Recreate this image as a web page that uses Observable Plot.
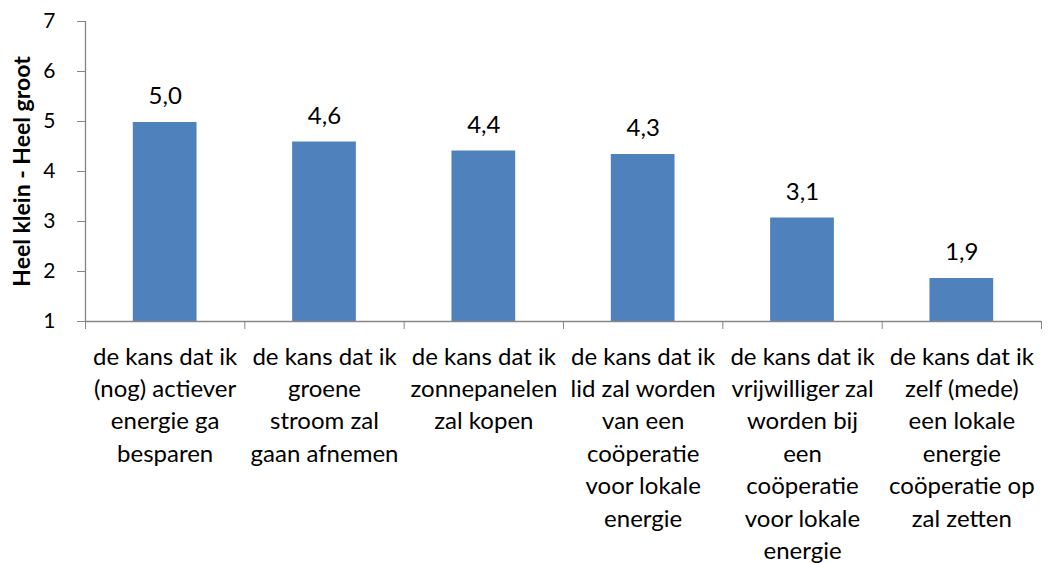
<!DOCTYPE html>
<html>
<head>
<meta charset="utf-8">
<script src="https://cdn.jsdelivr.net/npm/d3@7"></script>
<script src="https://cdn.jsdelivr.net/npm/@observablehq/plot@0.6"></script>
<style>
  html, body { margin: 0; padding: 0; background: #fff; }
  #chart svg { display: block; }
</style>
</head>
<body>
<div id="chart"></div>
<script>
const categories = [
  "de kans dat ik\n(nog) actiever\nenergie ga\nbesparen",
  "de kans dat ik\ngroene\nstroom zal\ngaan afnemen",
  "de kans dat ik\nzonnepanelen\nzal kopen",
  "de kans dat ik\nlid zal worden\nvan een\ncoöperatie\nvoor lokale\nenergie",
  "de kans dat ik\nvrijwilliger zal\nworden bij\neen\ncoöperatie\nvoor lokale\nenergie",
  "de kans dat ik\nzelf (mede)\neen lokale\nenergie\ncoöperatie op\nzal zetten"
];
const values = [4.98, 4.59, 4.41, 4.34, 3.07, 1.86];
const yTicks = [1, 2, 3, 4, 5, 6, 7];
const yTitle = "Heel klein - Heel groot";

const data = categories.map((c, i) => ({i, category: c, value: values[i]}));
const fmt = v => v.toFixed(1).replace(".", ",");
const axisColor = "#868686";
const font = "Lato, 'Open Sans', sans-serif";

const chart = Plot.plot({
  width: 1056,
  height: 563,
  marginLeft: 85,
  marginRight: 15,
  marginTop: 21,
  marginBottom: 242,
  style: {fontFamily: font, color: "#000", background: "#fff"},
  x: {type: "linear", domain: [0, categories.length], axis: null},
  y: {domain: [1, 7], axis: null},
  marks: [
    Plot.rect(data, {
      x1: d => d.i, x2: d => d.i + 1, y1: 1, y2: "value",
      insetLeft: 47.8, insetRight: 47.8, fill: "#4F81BD"
    }),
    Plot.ruleX([0], {stroke: axisColor, strokeWidth: 1.3}),
    Plot.ruleY([1], {stroke: axisColor, strokeWidth: 1.3}),
    Plot.axisY({
      ticks: yTicks, tickSize: 8, tickPadding: 22, stroke: axisColor,
      fontSize: 21, tickFormat: d => String(d), label: null, color: "#000"
    }),
    Plot.axisX({
      ticks: d3.range(0, categories.length + 1), tickSize: 8, stroke: axisColor,
      tickFormat: () => "", label: null
    }),
    Plot.text(data, {
      x: d => d.i + 0.5, frameAnchor: "bottom", lineAnchor: "top", dy: 20,
      text: "category", fontSize: 24, lineHeight: 1.35, fill: "#000"
    }),
    Plot.text(data, {
      x: d => d.i + 0.5, y: "value", text: d => fmt(d.value),
      dy: -26, fontSize: 24, fill: "#000"
    }),
    Plot.text([yTitle], {
      frameAnchor: "left", textAnchor: "middle", rotate: -90, dx: -63, fontSize: 23,
      fontWeight: "bold", fill: "#000"
    })
  ]
});
document.getElementById("chart").append(chart);
</script>
</body>
</html>
